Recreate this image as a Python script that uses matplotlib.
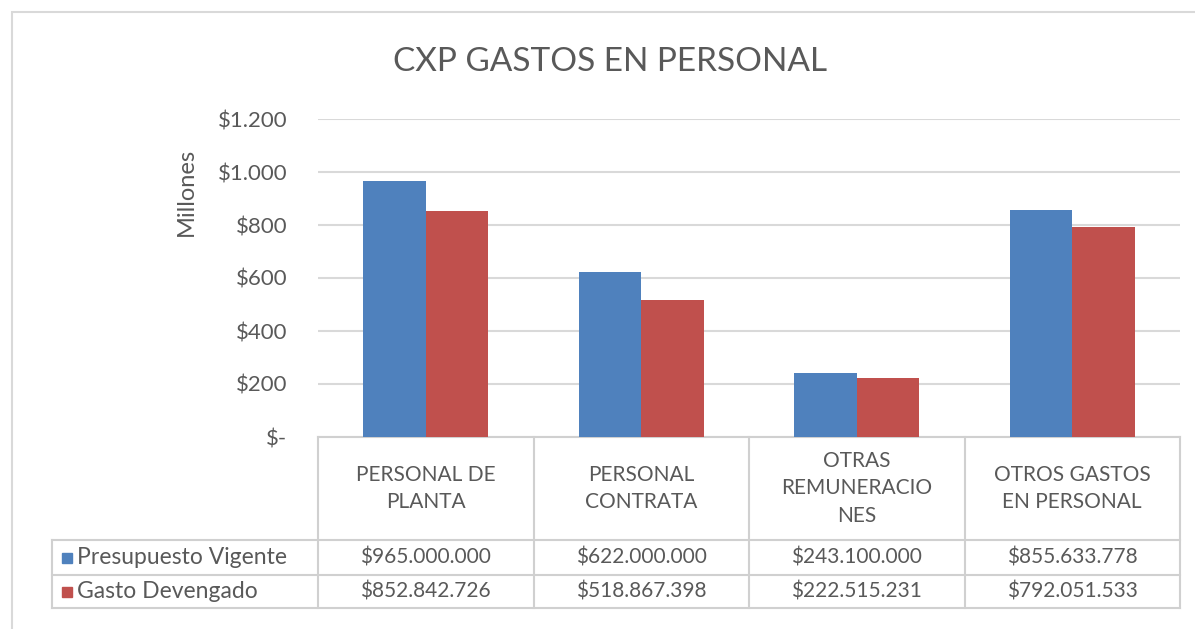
import matplotlib.pyplot as plt
import numpy as np
from matplotlib.lines import Line2D
from matplotlib.patches import Rectangle

# data
categorias = ["PERSONAL DE\nPLANTA", "PERSONAL\nCONTRATA", "OTRAS\nREMUNERACIO\nNES",
              "OTROS GASTOS\nEN PERSONAL"]
presupuesto = [965000000, 622000000, 243100000, 855633778]
devengado = [852842726, 518867398, 222515231, 792051533]
series = ["Presupuesto Vigente", "Gasto Devengado"]
yticks = [0, 200, 400, 600, 800, 1000, 1200]

azul = "#4f81bd"
rojo = "#c0504d"
gris_txt = "#595959"
gris_lin = "#d0d0d0"

plt.rcParams['font.family'] = ['Lato', 'DejaVu Sans']

W, H = 1195, 629
fig = plt.figure(figsize=(W / 100, H / 100), dpi=100)

def fy(py):
    return 1 - py / H

def fx(px):
    return px / W

# outer frame
fig.add_artist(Rectangle((fx(12), fy(640)), fx(1200) - fx(12), fy(12) - fy(640),
                         transform=fig.transFigure, fill=False, ec="#d9d9d9", lw=1.5))

ax_l, ax_r, ax_t, ax_b = 318, 1180, 119, 437
ax = fig.add_axes([fx(ax_l), fy(ax_b), fx(ax_r) - fx(ax_l), fy(ax_t) - fy(ax_b)])

x = np.arange(len(categorias))
w = 0.29
pres_m = np.array(presupuesto) / 1e6
dev_m = np.array(devengado) / 1e6
ax.bar(x - w / 2, pres_m, w, color=azul, zorder=3)
ax.bar(x + w / 2, dev_m, w, color=rojo, zorder=3)

ax.set_xlim(-0.5, len(categorias) - 0.5)
ax.set_ylim(0, 1200)
ax.set_yticks(yticks)
ax.set_yticklabels(["$-" if v == 0 else "$" + f"{v:,}".replace(",", ".") for v in yticks],
                   fontsize=16, color=gris_txt)
ax.tick_params(axis="y", length=0, pad=22)
ax.set_xticks([])
ax.yaxis.grid(True, color="#d9d9d9", lw=1.5, zorder=0)
for s in ["top", "right", "left"]:
    ax.spines[s].set_visible(False)
ax.spines["bottom"].set_color(gris_lin)
ax.spines["bottom"].set_linewidth(1.5)

fig.text(fx(186), fy(192), "Millones", rotation=90, ha="center", va="center",
         fontsize=17, color=gris_txt)
fig.text(fx(610), fy(62), "CXP GASTOS EN PERSONAL", ha="center", va="center",
         fontsize=24, color=gris_txt)

# data table below the axis
row1, row2, row3 = 540, 575, 608
tab_l = 52
def hline(py, x0, x1):
    fig.add_artist(Line2D([fx(x0), fx(x1)], [fy(py), fy(py)], transform=fig.transFigure,
                          color=gris_lin, lw=1.5))

def vline(px, y0, y1):
    fig.add_artist(Line2D([fx(px), fx(px)], [fy(y0), fy(y1)], transform=fig.transFigure,
                          color=gris_lin, lw=1.5))

hline(row1, tab_l, ax_r)
hline(row2, tab_l, ax_r)
hline(row3, tab_l, ax_r)
vline(tab_l, row1, row3)
col_w = (ax_r - ax_l) / len(categorias)
for i in range(len(categorias) + 1):
    vline(ax_l + i * col_w, ax_b, row3)

def money(v):
    return "$" + f"{v:,.0f}".replace(",", ".")

for i, cat in enumerate(categorias):
    cx = fx(ax_l + (i + 0.5) * col_w)
    fig.text(cx, fy((ax_b + row1) / 2), cat, ha="center", va="center", fontsize=15,
             color=gris_txt, linespacing=1.45)
    fig.text(cx, fy((row1 + row2) / 2), money(presupuesto[i]), ha="center", va="center",
             fontsize=15, color=gris_txt)
    fig.text(cx, fy((row2 + row3) / 2), money(devengado[i]), ha="center", va="center",
             fontsize=15, color=gris_txt)

for j, (nombre, col) in enumerate(zip(series, [azul, rojo])):
    yc = (row1 + row2) / 2 if j == 0 else (row2 + row3) / 2
    fig.add_artist(Rectangle((fx(62), fy(yc + 5)), fx(10), fy(0) - fy(10),
                             transform=fig.transFigure, color=col))
    fig.text(fx(77), fy(yc), nombre, ha="left", va="center", fontsize=16.5, color=gris_txt)

fig.savefig("out.png", dpi=100)
